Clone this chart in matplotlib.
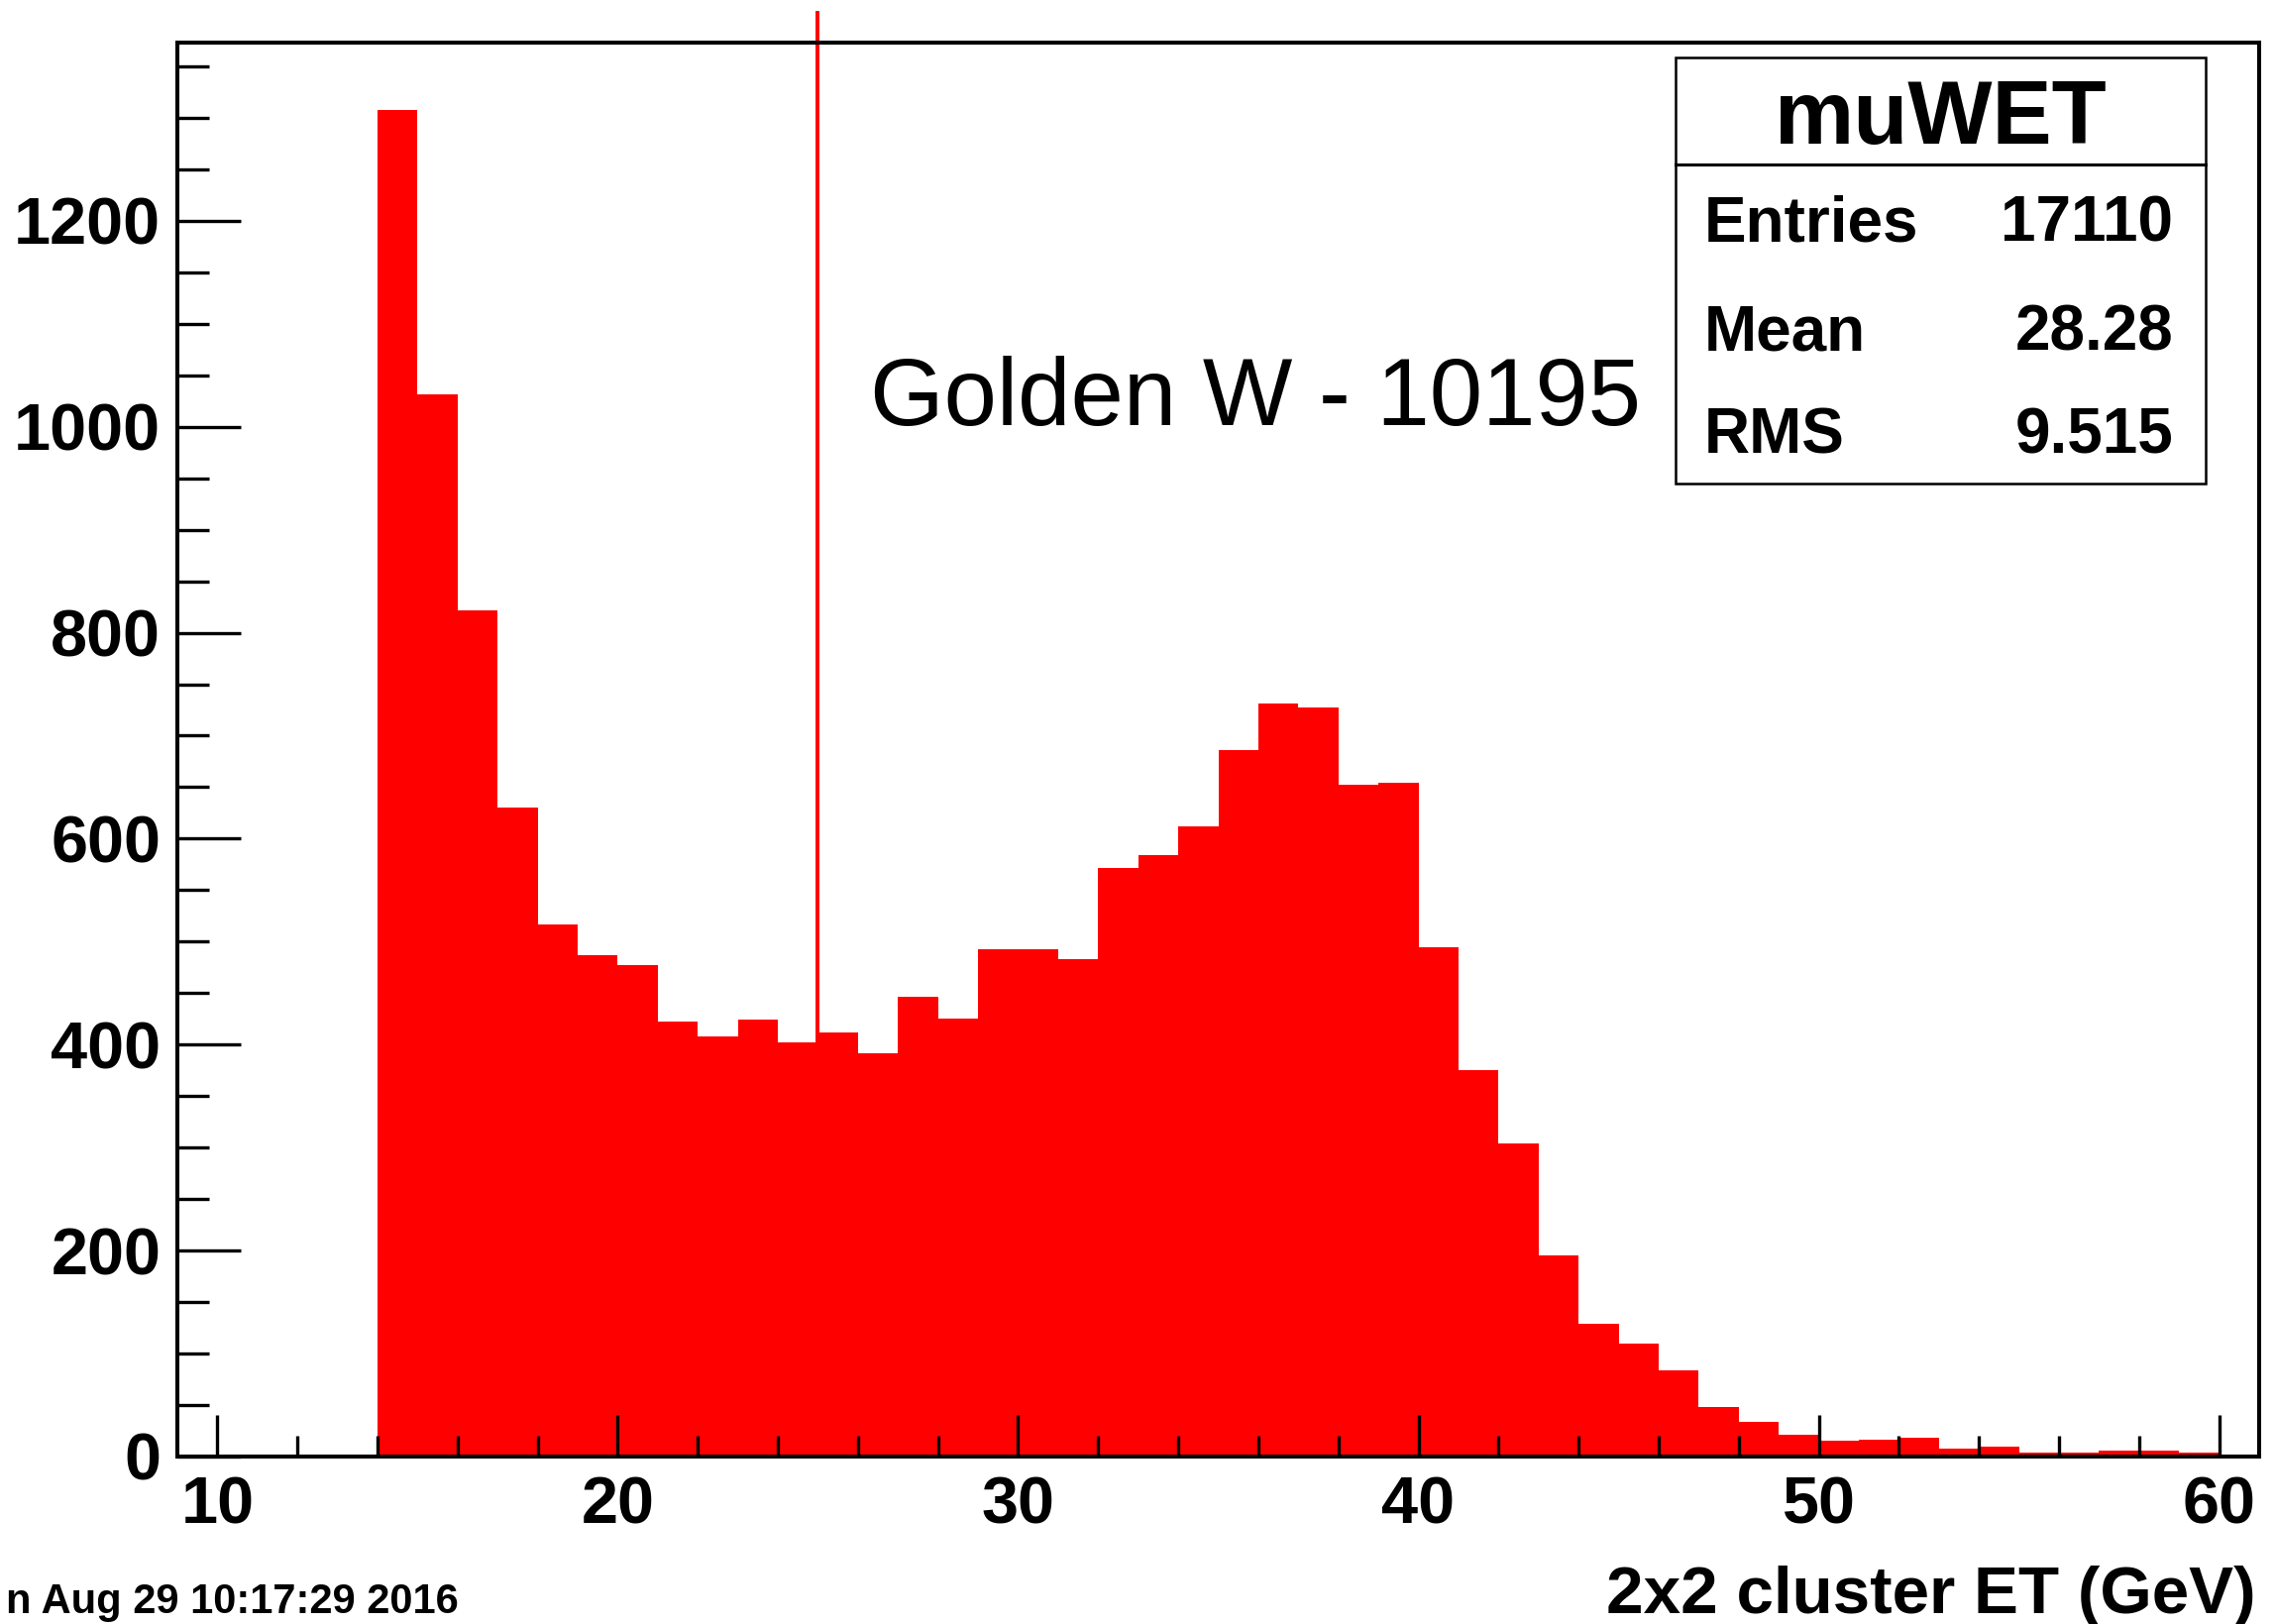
import numpy as np
import matplotlib
matplotlib.use("Agg")
import matplotlib.pyplot as plt
from matplotlib.patches import Rectangle
from matplotlib.lines import Line2D
from matplotlib.ticker import MultipleLocator

#--------------------------------
# DATA - muWET histogram, 1 GeV bins starting at 14 GeV
#--------------------------------
bin_start = 14
counts = [1308, 1031, 822, 630, 517, 487, 477, 422, 408, 424,
          402, 412, 392, 446, 425, 493, 493, 483, 572, 584,
          612, 686, 731, 727, 652, 654, 495, 375, 304, 195,
          129, 110, 84, 48, 34, 21, 15, 16, 18, 8,
          10, 4, 4, 6, 6, 4]
cut_value = 25
stat_names = ["Entries", "Mean", "RMS"]
stat_values = ["17110", "28.28", "9.515"]
hist_name = "muWET"
note_text = "Golden W - 10195"
x_label = "2x2 cluster ET (GeV)"
date_text = "n Aug 29 10:17:29 2016"

edges = np.arange(bin_start, bin_start + len(counts) + 1)

#--------------------------------
# FIGURE
#--------------------------------
plt.rcParams['font.family'] = ['Liberation Sans', 'DejaVu Sans']
plt.rcParams['font.weight'] = 'bold'

W, H = 2296, 1639
fig = plt.figure(figsize=(W / 100, H / 100), dpi=100)
ax = fig.add_axes([179 / W, 1 - 1470 / H, (2280 - 179) / W, (1470 - 43) / H])

ax.stairs(counts, edges, fill=True, color='#ff0000', linewidth=0)
ax.plot([cut_value, cut_value], [0, 1402], color='#ff0000', lw=2.8,
        clip_on=False, zorder=3)

ax.set_xlim(9, 61)
ax.set_ylim(0, 1373)

for s in ax.spines.values():
    s.set_linewidth(2.9)
    s.set_zorder(4)

ax.xaxis.set_major_locator(MultipleLocator(10))
ax.xaxis.set_minor_locator(MultipleLocator(2))
ax.yaxis.set_major_locator(MultipleLocator(200))
ax.yaxis.set_minor_locator(MultipleLocator(50))

ax.tick_params(axis='y', which='major', direction='in', length=46, width=2.4,
               labelsize=48, pad=12)
ax.tick_params(axis='y', which='minor', direction='in', length=23, width=2.4)
ax.tick_params(axis='x', which='major', direction='in', length=30, width=2.4,
               labelsize=48, pad=14)
ax.tick_params(axis='x', which='minor', direction='in', length=15, width=2.4)
for lbl in ax.get_xticklabels() + ax.get_yticklabels():
    lbl.set_fontweight('bold')

# annotation for the golden W sample
ax.text(26.3, 1002, note_text, fontsize=69, fontweight='normal',
        ha='left', va='baseline')

#--------------------------------
# STATS BOX
#--------------------------------
bl, br = 1691 / W, 2226 / W
bt, bd, bb = 1 - 58 / H, 1 - 166 / H, 1 - 488 / H
fig.add_artist(Rectangle((bl, bb), br - bl, bt - bb, transform=fig.transFigure,
                         facecolor='white', edgecolor='black', lw=1.8))
fig.add_artist(Line2D([bl, br], [bd, bd], transform=fig.transFigure,
                      color='black', lw=2.2))
fig.text((bl + br) / 2, 1 - 145 / H, hist_name, fontsize=65, fontweight='bold',
         ha='center', va='baseline')
for name, val, yb in zip(stat_names, stat_values, [243, 353, 457]):
    fig.text(1720 / W, 1 - yb / H, name, fontsize=46, fontweight='bold',
             ha='left', va='baseline')
    fig.text(2193 / W, 1 - yb / H, val, fontsize=46, fontweight='bold',
             ha='right', va='baseline')

# axis title + timestamp
fig.text(2277 / W, 1 - 1628 / H, x_label, fontsize=48.5, fontweight='bold',
         ha='right', va='baseline')
fig.text(6 / W, 1 - 1628 / H, date_text, fontsize=30, fontweight='bold',
         ha='left', va='baseline')

fig.savefig("out.png", dpi=100, facecolor='white')
